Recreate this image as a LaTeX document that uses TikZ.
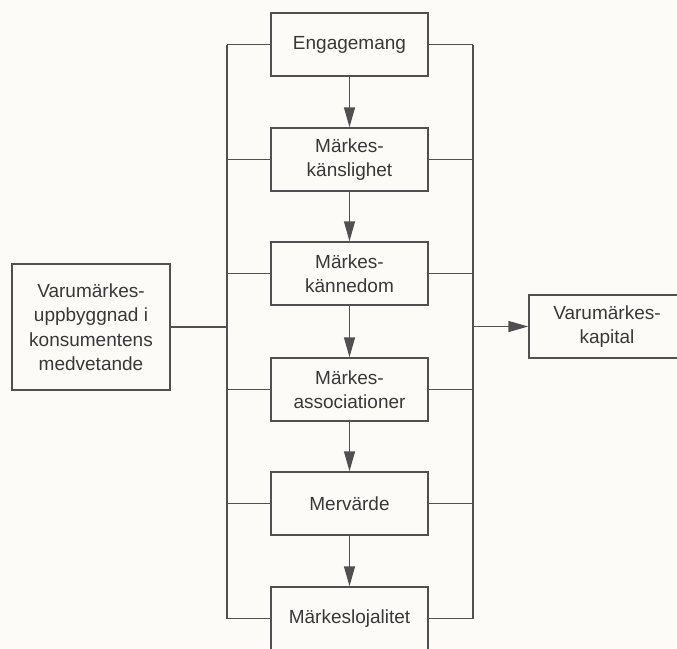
\documentclass[tikz,border=0pt]{standalone}
\usepackage{fontspec}
\setmainfont{Liberation Sans}
\usetikzlibrary{arrows.meta}
\definecolor{bg}{HTML}{FCFBF7}
\definecolor{ln}{HTML}{505050}
\definecolor{tx}{HTML}{383838}
\tikzset{
  box/.style={draw=ln, line width=1.5pt, fill=bg, text=tx, inner sep=0pt, align=center,
    minimum width=157pt, minimum height=63pt, font=\fontsize{19}{24.5}\selectfont},
  conn/.style={draw=ln, line width=1.5pt},
  arr/.style={conn, -{Triangle[length=20pt,width=11pt]}},
}
\begin{document}
\begin{tikzpicture}[x=1pt,y=-1pt]
\fill[bg] (0,0) rectangle (677,648);
\useasboundingbox (0,0) rectangle (677,648);
\clip (0,0) rectangle (677,648);
\node[box] (e) at (349.5,44.5) {Engagemang};
\node[box] (k1) at (349.5,159.5) {Märkes-\\känslighet};
\node[box] (k2) at (349.5,273.5) {Märkes-\\kännedom};
\node[box] (k3) at (349.5,389.5) {Märkes-\\associationer};
\node[box] (k4) at (349.5,503.5) {Mervärde};
\node[box] (k5) at (349.5,618.5) {Märkeslojalitet};
\node[box, minimum width=158pt, minimum height=126pt] (vb) at (91,327) {Varumärkes-\\uppbyggnad i\\konsumentens\\medvetande};
\node[box, minimum width=156pt] (kap) at (607,326.5) {Varumärkes-\\kapital};
\coordinate (lx) at (227,0);
\coordinate (rx) at (473,0);
\draw[arr] (e) -- (k1);
\draw[arr] (k1) -- (k2);
\draw[arr] (k2) -- (k3);
\draw[arr] (k3) -- (k4);
\draw[arr] (k4) -- (k5);
\foreach \n in {e,k1,k2,k3,k4,k5}{
  \draw[conn] (\n.west) -- (\n.west -| lx);
  \draw[conn] (\n.east) -- (\n.east -| rx);
}
\draw[conn] (e.west -| lx) -- (k5.west -| lx);
\draw[conn] (e.east -| rx) -- (k5.east -| rx);
\draw[conn] (vb.east) -- (vb.east -| lx);
\draw[arr] (kap.west -| rx) -- (kap.west);
\end{tikzpicture}
\end{document}
